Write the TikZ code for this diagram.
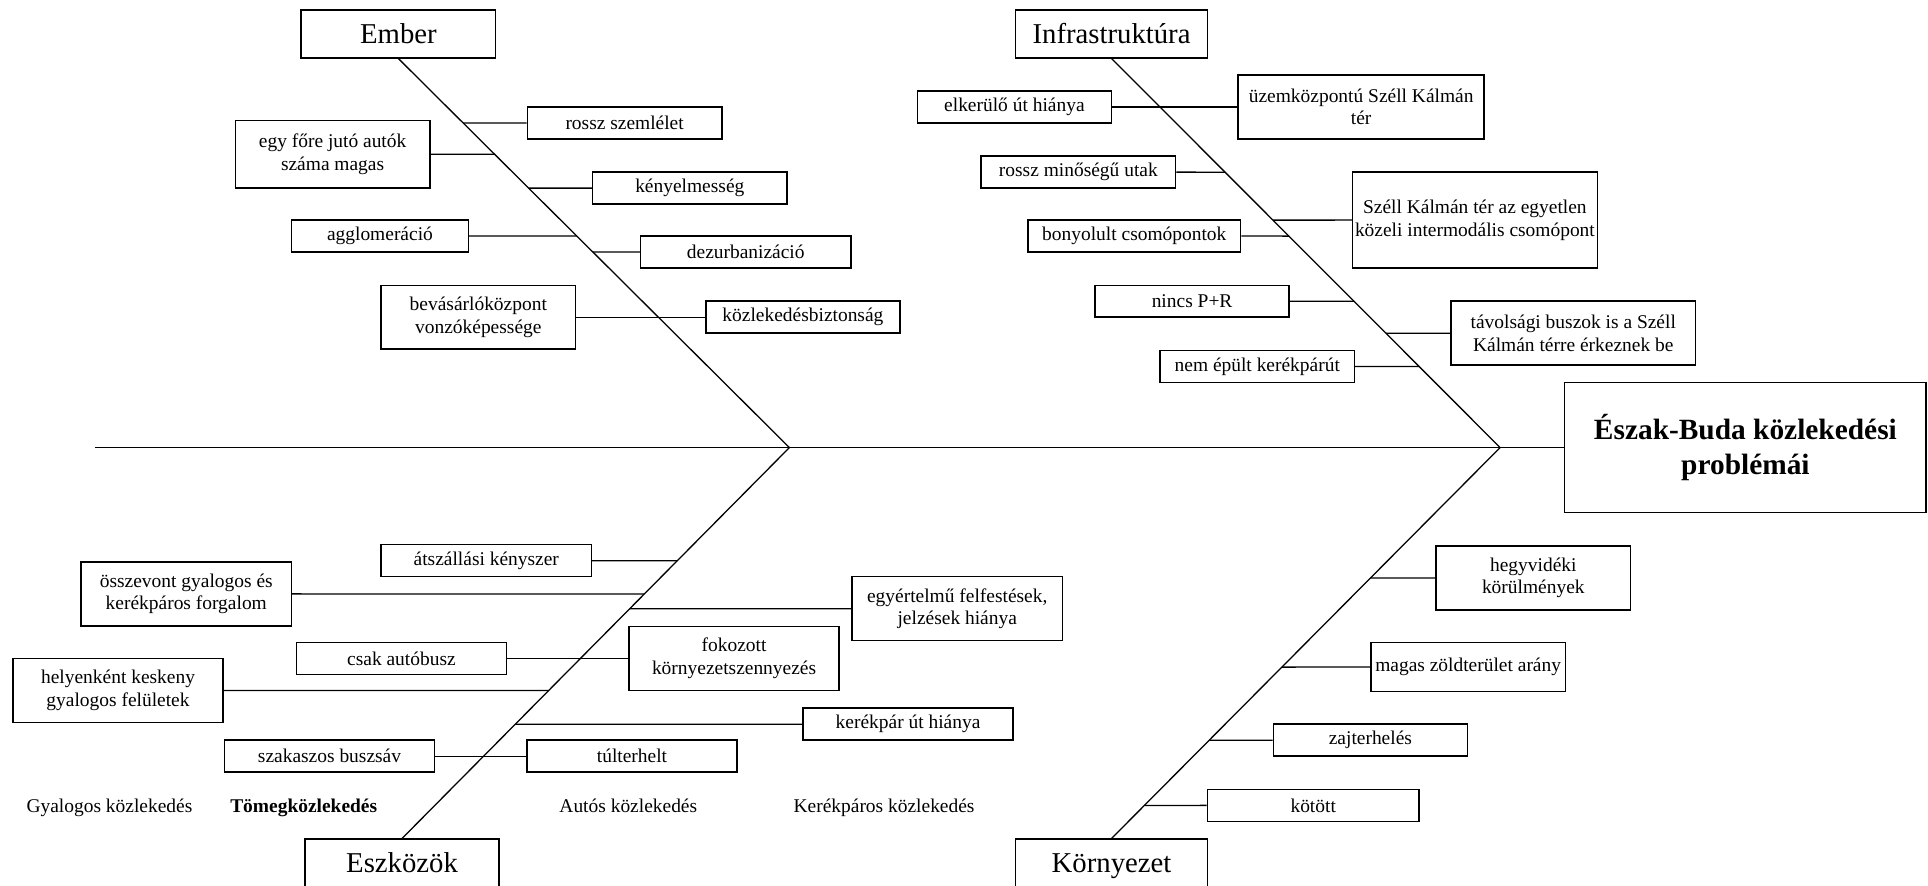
\documentclass[tikz,border=0pt]{standalone}
\usepackage{fontspec}
\setmainfont{Liberation Serif}

\tikzset{
  cause/.style={draw, line width=0.7pt, align=center, inner sep=1pt,
    minimum width=31.6mm, minimum height=5.2mm,
    font=\fontsize{9}{10.5}\selectfont},
  category/.style={draw, line width=0.7pt, minimum width=31.6mm, minimum height=7.8mm,
    text height=3.6mm, text depth=0.5mm,
    font=\fontsize{13.3}{15}\selectfont},
  problem/.style={draw, line width=0.7pt, align=center,
    minimum width=58.8mm, minimum height=21.2mm,
    font=\fontsize{13.6}{15.9}\selectfont\bfseries},
  bone/.style={line width=0.6pt},
  mode/.style={anchor=base, font=\fontsize{9}{10.5}\selectfont},
}

\begin{document}
\begin{tikzpicture}[x=0.2mm, y=-0.2mm]
  \useasboundingbox (0,0) rectangle (1568,720);

  % head and main spine
  \node[problem] (head) at (1419.5,364) {Észak-Buda közlekedési\\problémái};
  \coordinate (tail) at (77,364);
  \coordinate (E) at (642,364);
  \coordinate (I) at (1220,364);
  \draw[bone] (tail) -- (head.west);

  % categories
  \node[category] (ember) at (324,27.5) {Ember};
  \node[category, minimum width=31.2mm] (infra) at (904,27.5) {Infrastruktúra};
  \node[category] (eszk) at (327,702) {Eszközök};
  \node[category, minimum width=31.2mm] (korny) at (904,702) {Környezet};
  \draw[bone] (ember.south) -- (E) -- (eszk.north);
  \draw[bone] (infra.south) -- (I) -- (korny.north);

  % Ember
  \node[cause] (szemlelet) at (508,100) {rossz szemlélet};
  \node[cause, minimum height=11mm] (autok) at (270.5,125.5) {egy főre jutó autók\\száma magas};
  \node[cause] (kenyelem) at (561,153) {kényelmesség};
  \node[cause, minimum width=28.8mm] (agglo) at (309,192) {agglomeráció};
  \node[cause, minimum width=34.2mm] (dezurb) at (606.5,205) {dezurbanizáció};
  \node[cause, minimum height=10.4mm] (bevas) at (389,258) {bevásárlóközpont\\vonzóképessége};
  \node[cause] (biztonsag) at (653,258) {közlekedésbiztonság};
  \draw[bone] (szemlelet.west) -- (intersection of ember.south--E and szemlelet.west--szemlelet.east);
  \draw[bone] (autok.east) -- (intersection of ember.south--E and autok.west--autok.east);
  \draw[bone] (kenyelem.west) -- (intersection of ember.south--E and kenyelem.west--kenyelem.east);
  \draw[bone] (agglo.east) -- (intersection of ember.south--E and agglo.west--agglo.east);
  \draw[bone] (dezurb.west) -- (intersection of ember.south--E and dezurb.west--dezurb.east);
  \draw[bone] (bevas.east) -- (biztonsag.west);

  % Infrastruktura
  \node[cause] (elkerulo) at (825,87) {elkerülő út hiánya};
  \node[cause, minimum width=40mm, minimum height=10.4mm] (uzem) at (1107,87) {üzemközpontú Széll Kálmán\\tér};
  \node[cause] (utak) at (877,140) {rossz minőségű utak};
  \node[cause, minimum width=39.8mm, minimum height=15.6mm] (szell) at (1199.5,179) {Széll Kálmán tér az egyetlen\\közeli intermodális csomópont};
  \node[cause, minimum width=34.6mm] (csomo) at (922.5,192) {bonyolult csomópontok};
  \node[cause] (pr) at (969.5,245) {nincs P+R};
  \node[cause, minimum width=39.8mm, minimum height=10.4mm] (tavolsagi) at (1279.5,271) {távolsági buszok is a Széll\\Kálmán térre érkeznek be};
  \node[cause] (bicikliut) at (1022.5,298) {nem épült kerékpárút};
  \draw[bone] (elkerulo.east) -- (uzem.west);
  \draw[bone] (utak.east) -- (intersection of infra.south--I and utak.west--utak.east);
  \draw[bone] (szell.west) -- (intersection of infra.south--I and szell.west--szell.east);
  \draw[bone] (csomo.east) -- (intersection of infra.south--I and csomo.west--csomo.east);
  \draw[bone] (pr.east) -- (intersection of infra.south--I and pr.west--pr.east);
  \draw[bone] (tavolsagi.west) -- (intersection of infra.south--I and tavolsagi.west--tavolsagi.east);
  \draw[bone] (bicikliut.east) -- (intersection of infra.south--I and bicikliut.west--bicikliut.east);

  % Eszkozok
  \node[cause, minimum width=34.2mm] (atszall) at (395.5,456) {átszállási kényszer};
  \node[cause, minimum width=34.2mm, minimum height=10.4mm] (osszevont) at (151.5,483) {összevont gyalogos és\\kerékpáros forgalom};
  \node[cause, minimum width=34.2mm, minimum height=10.4mm] (felfest) at (778.5,495) {egyértelmű felfestések,\\jelzések hiánya};
  \node[cause, minimum width=34.2mm] (autobusz) at (326.5,535.5) {csak autóbusz};
  \node[cause, minimum width=34.2mm, minimum height=10.4mm] (szennyez) at (597,535.5) {fokozott\\környezetszennyezés};
  \node[cause, minimum width=34.2mm, minimum height=10.4mm] (keskeny) at (96,561.5) {helyenként keskeny\\gyalogos felületek};
  \node[cause, minimum width=34.2mm] (kerekpar) at (738.5,589) {kerékpár út hiánya};
  \node[cause, minimum width=34.2mm] (buszsav) at (268,615) {szakaszos buszsáv};
  \node[cause, minimum width=34.2mm] (tulterhelt) at (514,615) {túlterhelt};
  \draw[bone] (atszall.east) -- (intersection of eszk.north--E and atszall.west--atszall.east);
  \draw[bone] (osszevont.east) -- (intersection of eszk.north--E and osszevont.west--osszevont.east);
  \draw[bone] (felfest.west) -- (intersection of eszk.north--E and felfest.west--felfest.east);
  \draw[bone] (autobusz.east) -- (szennyez.west);
  \draw[bone] (keskeny.east) -- (intersection of eszk.north--E and keskeny.west--keskeny.east);
  \draw[bone] (kerekpar.west) -- (intersection of eszk.north--E and kerekpar.west--kerekpar.east);
  \draw[bone] (buszsav.east) -- (tulterhelt.west);

  % transport modes
  \node[mode] (gyalog) at (89,661) {Gyalogos közlekedés};
  \node[mode] (tomeg) at (247,661) {\textbf{Tömegközlekedés}};
  \node[mode] (autos) at (511,661) {Autós közlekedés};
  \node[mode] (bicikli) at (719,661) {Kerékpáros közlekedés};

  % Kornyezet
  \node[cause, minimum height=10.4mm] (hegy) at (1247,470) {hegyvidéki\\körülmények};
  \node[cause, minimum height=8mm] (zold) at (1194,542.5) {magas zöldterület arány};
  \node[cause] (zaj) at (1114.5,602) {zajterhelés};
  \node[cause, minimum width=34.4mm] (kotott) at (1068,655) {kötött};
  \draw[bone] (hegy.west) -- (intersection of korny.north--I and hegy.west--hegy.east);
  \draw[bone] (zold.west) -- (intersection of korny.north--I and zold.west--zold.east);
  \draw[bone] (zaj.west) -- (intersection of korny.north--I and zaj.west--zaj.east);
  \draw[bone] (kotott.west) -- (intersection of korny.north--I and kotott.west--kotott.east);
\end{tikzpicture}
\end{document}
